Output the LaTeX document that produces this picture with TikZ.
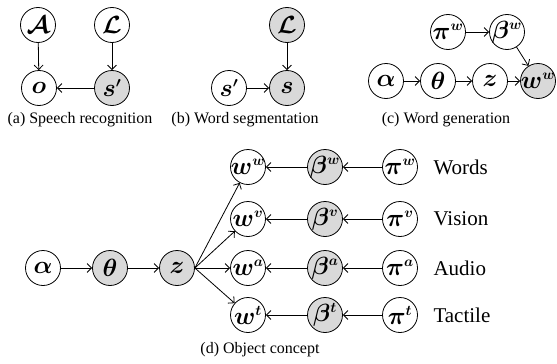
\documentclass[tikz,border=0pt]{standalone}
\usepackage{amsmath,amssymb}
\usepackage{fontspec}
\setmainfont{Liberation Serif}
\usetikzlibrary{arrows.meta}
% large variables with small superscripts inside the circles
\DeclareMathSizes{24.88}{24.88}{14.4}{12}

\begin{document}
\begin{tikzpicture}[x=1pt,y=-1pt,
  var/.style={circle,draw,line width=0.8pt,minimum size=35pt,inner sep=-6pt,
    font=\fontsize{24.88}{28}\selectfont\boldmath},
  obs/.style={var,fill=gray!30},
  arr/.style={line width=0.8pt,-{Straight Barb[length=4.5pt,width=9pt]}},
  captext/.style={font=\fontsize{16}{18}\selectfont},
  lab/.style={anchor=west,font=\fontsize{21}{24}\selectfont}]
\useasboundingbox (0,0) rectangle (557,364);

% (a) speech recognition
\node[var] (aA) at (38,25) {$\mathcal{A}$};
\node[var] (aL) at (112,25) {$\mathcal{L}$};
\node[var] (aO) at (39,88) {$o$};
\node[obs] (aS) at (112,88) {$s'$};
\draw[arr] (aA) -- (aO);
\draw[arr] (aL) -- (aS);
\draw[arr] (aS) -- (aO);
\node[captext] (capa) at (80,120) {(a) Speech recognition};

% (b) word segmentation
\node[obs] (bL) at (287,25) {$\mathcal{L}$};
\node[obs] (bS) at (287,88) {$s$};
\node[var] (bSp) at (229,88) {$s'$};
\draw[arr] (bL) -- (bS);
\draw[arr] (bSp) -- (bS);
\node[captext] (capb) at (245,120) {(b) Word segmentation};

% (c) word generation
\node[var] (cPi) at (448,32) {$\pi^{w}$};
\node[var] (cBeta) at (507,32) {$\beta^{w}$};
\node[var] (cAlpha) at (386,81) {$\alpha$};
\node[var] (cTheta) at (438,81) {$\theta$};
\node[var] (cZ) at (490,81) {$z$};
\node[obs] (cW) at (538,81) {$w^{w}$};
\draw[arr] (cPi) -- (cBeta);
\draw[arr] (cBeta) -- (cW);
\draw[arr] (cAlpha) -- (cTheta);
\draw[arr] (cTheta) -- (cZ);
\draw[arr] (cZ) -- (cW);
\node[captext] (capc) at (446,120) {(c) Word generation};

% (d) object concept
\node[var] (dAlpha) at (43,268) {$\alpha$};
\node[obs] (dTheta) at (110,268) {$\theta$};
\node[obs] (dZ) at (177,268) {$z$};
\draw[arr] (dAlpha) -- (dTheta);
\draw[arr] (dTheta) -- (dZ);
\foreach \m/\y/\name in {w/167/Words, v/219/Vision, a/268/Audio, t/315/Tactile}{
  \node[var] (dW\m) at (248,\y) {$w^{\m}$};
  \node[obs] (dB\m) at (325,\y) {$\beta^{\m}$};
  \node[var] (dP\m) at (400,\y) {$\pi^{\m}$};
  \node[lab] (dL\m) at (430,\y) {\name};
  \draw[arr] (dZ.east) -- (dW\m);
  \draw[arr] (dB\m) -- (dW\m);
  \draw[arr] (dP\m) -- (dB\m);
}
\node[captext] (capd) at (260,350) {(d) Object concept};
\end{tikzpicture}
\end{document}
